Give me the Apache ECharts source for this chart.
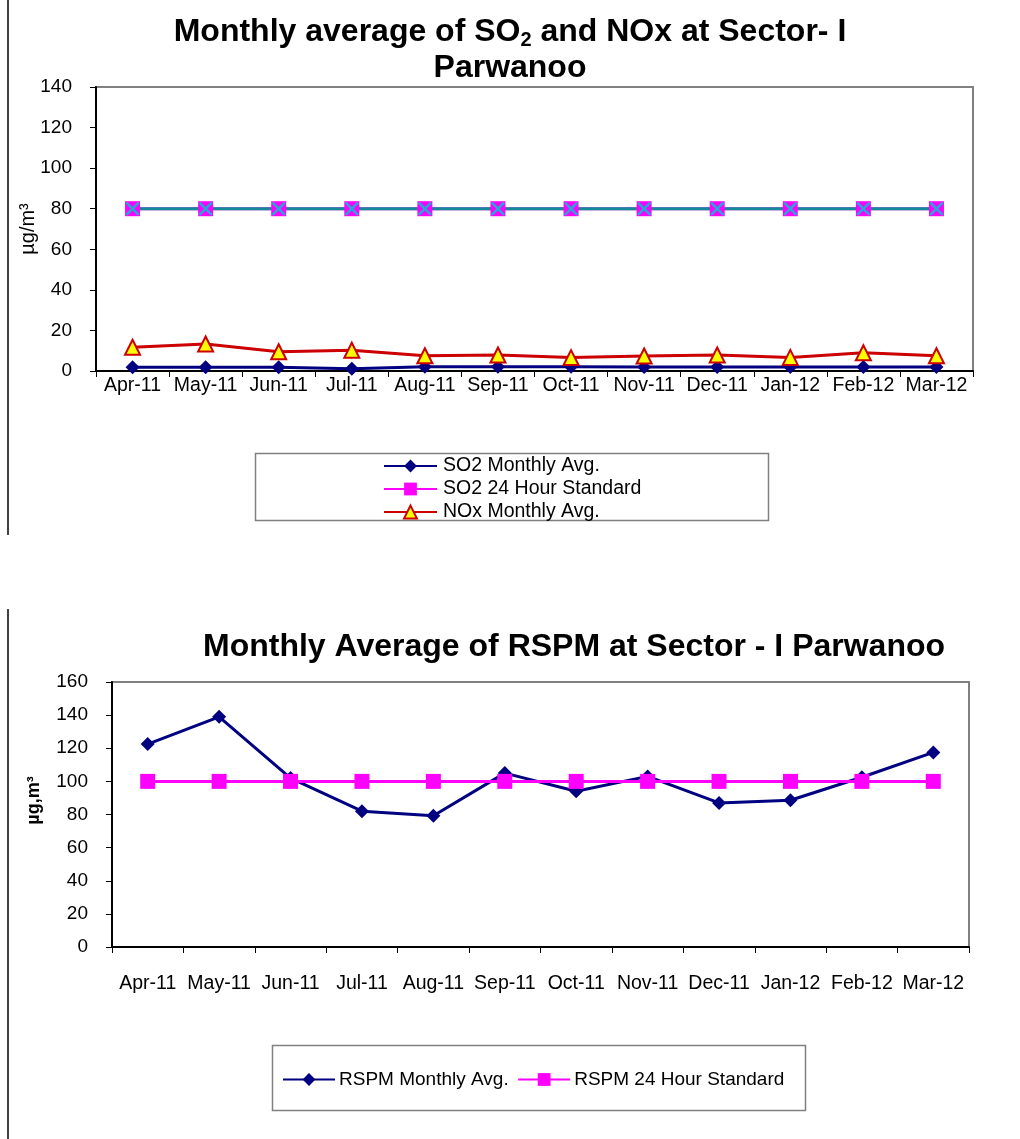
<!DOCTYPE html>
<html>
<head>
<meta charset="utf-8">
<title>Monthly average SO2, NOx and RSPM - Sector I Parwanoo</title>
<script src="https://cdn.jsdelivr.net/npm/echarts@6/dist/echarts.min.js"></script>
<style>
  html, body { margin: 0; padding: 0; background: #fff; }
  #chart { width: 1020px; height: 1139px; }
</style>
</head>
<body>
<div id="chart"></div>
<script>
// months (same for both charts)
var months = ['Apr-11', 'May-11', 'Jun-11', 'Jul-11', 'Aug-11', 'Sep-11', 'Oct-11', 'Nov-11', 'Dec-11', 'Jan-12', 'Feb-12', 'Mar-12']

// chart 1 - SO2 / NOx (µg/m3)
var so2Avg = [1.9, 1.8, 1.9, 1.1, 2.1, 2.1, 2.1, 2.0, 2.0, 2.0, 2.0, 2.0]
var so2Std = [80, 80, 80, 80, 80, 80, 80, 80, 80, 80, 80, 80]
var noxStd = [80, 80, 80, 80, 80, 80, 80, 80, 80, 80, 80, 80]
var noxAvg = [11.7, 13.3, 9.5, 10.2, 7.5, 7.9, 6.6, 7.4, 7.9, 6.7, 9.0, 7.5]
var ticks1 = [0, 20, 40, 60, 80, 100, 120, 140]

// chart 2 - RSPM (µg/m3)
var rspmAvg = [122.5, 139, 102, 82, 79.2, 105, 94, 103, 87, 88.6, 102.5, 117.5]
var rspmStd = [100, 100, 100, 100, 100, 100, 100, 100, 100, 100, 100, 100]
var ticks2 = [0, 20, 40, 60, 80, 100, 120, 140, 160]

var FONT = 'Liberation Sans, Arial, sans-serif'
var xMark = 'path://M0,1.2L1.2,0L5,3.8L8.8,0L10,1.2L6.2,5L10,8.8L8.8,10L5,6.2L1.2,10L0,8.8L3.8,5Z'

var chart = echarts.init(document.getElementById('chart'))

function yAxis(gridIndex, ticks, name, nameGap, nameStyle) {
  return {
    gridIndex: gridIndex,
    type: 'value',
    min: ticks[0],
    max: ticks[ticks.length - 1],
    interval: ticks[1] - ticks[0],
    name: name,
    nameLocation: 'middle',
    nameGap: nameGap,
    nameMoveOverlap: false,
    nameTextStyle: nameStyle,
    axisLine: { show: true, lineStyle: { color: '#000', width: 2 } },
    axisTick: { show: true, length: 6, lineStyle: { color: '#000', width: 1 } },
    axisLabel: { fontFamily: FONT, fontSize: 19, color: '#000', margin: 24 },
    splitLine: { show: false }
  }
}

function xAxis(gridIndex, margin) {
  return {
    gridIndex: gridIndex,
    type: 'category',
    data: months,
    boundaryGap: true,
    axisLine: { lineStyle: { color: '#000', width: 2 } },
    axisTick: { show: true, length: 6, lineStyle: { color: '#000', width: 1 } },
    axisLabel: { fontFamily: FONT, fontSize: 19.5, color: '#000', margin: margin, interval: 0 }
  }
}

chart.setOption({
  animation: false,
  title: [{
    text: 'Monthly average of SO{sub|2} and NOx at Sector- I\nParwanoo',
    left: 'center',
    top: 9,
    textStyle: {
      fontFamily: FONT, fontSize: 32, fontWeight: 'bold', color: '#000', lineHeight: 36,
      rich: { sub: { fontFamily: FONT, fontSize: 20, fontWeight: 'bold', color: '#000', padding: [16, 0, 0, 0] } }
    }
  }, {
    text: 'Monthly Average of RSPM at Sector - I Parwanoo',
    left: 198,
    top: 624,
    textStyle: { fontFamily: FONT, fontSize: 32, fontWeight: 'bold', color: '#000', lineHeight: 36 }
  }],
  legend: [{
    data: ['SO2 Monthly Avg.', 'SO2 24 Hour Standard', 'NOx Monthly Avg.'],
    orient: 'vertical',
    left: 378,
    top: 451,
    itemWidth: 53,
    itemHeight: 16,
    itemGap: 3,
    textStyle: { fontFamily: FONT, fontSize: 19.5, color: '#000', padding: [0, 0, 0, 1] }
  }, {
    data: ['RSPM Monthly Avg.', 'RSPM 24 Hour Standard'],
    orient: 'horizontal',
    left: 277,
    top: 1065,
    itemWidth: 52,
    itemHeight: 16,
    itemGap: 8.5,
    textStyle: { fontFamily: FONT, fontSize: 19, color: '#000', padding: [0, 0, 0, -1] }
  }],
  grid: [
    { left: 96, top: 87, width: 877, height: 284, show: true, borderColor: '#808080', borderWidth: 2, backgroundColor: '#fff' },
    { left: 112, top: 682, width: 857, height: 265, show: true, borderColor: '#808080', borderWidth: 2, backgroundColor: '#fff' }
  ],
  xAxis: [xAxis(0, 5), xAxis(1, 27)],
  yAxis: [
    yAxis(0, ticks1, 'µg/m³', 58, { fontFamily: FONT, fontSize: 20, color: '#000' }),
    yAxis(1, ticks2, 'µg,m³', 69, { fontFamily: FONT, fontSize: 18, fontWeight: 'bold', color: '#000', padding: [0, 0, 0, 28] })
  ],
  graphic: [
    { type: 'line', shape: { x1: 8, y1: 0, x2: 8, y2: 535 }, style: { stroke: '#000', lineWidth: 1.5 } },
    { type: 'line', shape: { x1: 8, y1: 609, x2: 8, y2: 1139 }, style: { stroke: '#000', lineWidth: 1.5 } },
    { type: 'rect', z: -1, shape: { x: 255.5, y: 453.5, width: 513, height: 67 }, style: { fill: '#fff', stroke: '#808080', lineWidth: 1.5 } },
    { type: 'rect', z: -1, shape: { x: 272.5, y: 1045.5, width: 533, height: 65 }, style: { fill: '#fff', stroke: '#808080', lineWidth: 1.5 } }
  ],
  series: [
    {
      name: 'SO2 Monthly Avg.', type: 'line', xAxisIndex: 0, yAxisIndex: 0, data: so2Avg,
      symbol: 'diamond', symbolSize: 14,
      lineStyle: { color: '#000080', width: 3 },
      itemStyle: { color: '#000080' }
    },
    {
      name: 'SO2 24 Hour Standard', type: 'line', xAxisIndex: 0, yAxisIndex: 0, data: so2Std,
      symbol: 'rect', symbolSize: 15,
      lineStyle: { color: '#FF00FF', width: 3 },
      itemStyle: { color: '#FF00FF' }
    },
    {
      name: 'NOx 24 Hour Standard', type: 'line', xAxisIndex: 0, yAxisIndex: 0, data: noxStd,
      symbol: xMark, symbolSize: 14,
      lineStyle: { color: '#13899A', width: 3 },
      itemStyle: { color: '#22A8D8' }
    },
    {
      name: 'NOx Monthly Avg.', type: 'line', xAxisIndex: 0, yAxisIndex: 0, data: noxAvg,
      symbol: 'triangle', symbolSize: 15,
      lineStyle: { color: '#CC0000', width: 3 },
      itemStyle: { color: '#FFFF00', borderColor: '#CC0000', borderWidth: 2 }
    },
    {
      name: 'RSPM Monthly Avg.', type: 'line', xAxisIndex: 1, yAxisIndex: 1, data: rspmAvg,
      symbol: 'diamond', symbolSize: 14,
      lineStyle: { color: '#000080', width: 3 },
      itemStyle: { color: '#000080' }
    },
    {
      name: 'RSPM 24 Hour Standard', type: 'line', xAxisIndex: 1, yAxisIndex: 1, data: rspmStd,
      symbol: 'rect', symbolSize: 15,
      lineStyle: { color: '#FF00FF', width: 3 },
      itemStyle: { color: '#FF00FF' }
    }
  ]
})
</script>
</body>
</html>
